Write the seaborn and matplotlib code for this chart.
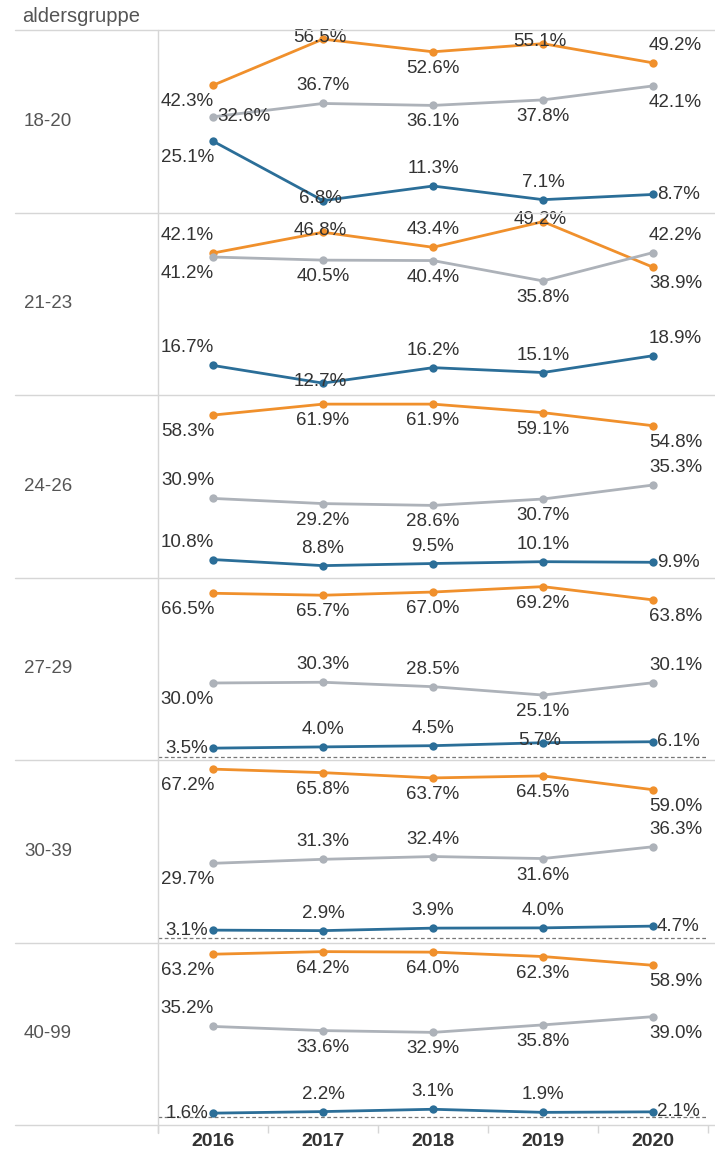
import numpy as np
import pandas as pd
import matplotlib.pyplot as plt
from matplotlib.lines import Line2D
import seaborn as sns

# --- data (andel i prosent) ---
years = [2016, 2017, 2018, 2019, 2020]
age_groups = ['18-20', '21-23', '24-26', '27-29', '30-39', '40-99']
series_names = ['Serie A', 'Serie B', 'Serie C']

# one row per aldersgruppe, values for 2016..2020
serie_a = [  # orange
    [42.3, 56.5, 52.6, 55.1, 49.2],
    [42.1, 46.8, 43.4, 49.2, 38.9],
    [58.3, 61.9, 61.9, 59.1, 54.8],
    [66.5, 65.7, 67.0, 69.2, 63.8],
    [67.2, 65.8, 63.7, 64.5, 59.0],
    [63.2, 64.2, 64.0, 62.3, 58.9],
]
serie_b = [  # gray
    [32.6, 36.7, 36.1, 37.8, 42.1],
    [41.2, 40.5, 40.4, 35.8, 42.2],
    [30.9, 29.2, 28.6, 30.7, 35.3],
    [30.0, 30.3, 28.5, 25.1, 30.1],
    [29.7, 31.3, 32.4, 31.6, 36.3],
    [35.2, 33.6, 32.9, 35.8, 39.0],
]
serie_c = [  # blue
    [25.1, 6.8, 11.3, 7.1, 8.7],
    [16.7, 12.7, 16.2, 15.1, 18.9],
    [10.8, 8.8, 9.5, 10.1, 9.9],
    [3.5, 4.0, 4.5, 5.7, 6.1],
    [3.1, 2.9, 3.9, 4.0, 4.7],
    [1.6, 2.2, 3.1, 1.9, 2.1],
]

# --- styling ---
palette = {'Serie A': '#F0902C', 'Serie B': '#ADB2B9', 'Serie C': '#2B6E98'}

# where each value label goes relative to its point
label_pos = {
    'Serie A': [
        ['SW', 'C', 'S', 'C', 'NE'],
        ['NW', 'C', 'N', 'C', 'SE'],
        ['SW', 'S', 'S', 'S', 'SE'],
        ['SW', 'S', 'S', 'S', 'SE'],
        ['SW', 'S', 'S', 'S', 'SE'],
        ['SW', 'S', 'S', 'S', 'SE'],
    ],
    'Serie B': [
        ['E', 'N', 'S', 'S', 'SE'],
        ['SW', 'S', 'S', 'S', 'NE'],
        ['NW', 'S', 'S', 'S', 'NE'],
        ['SW', 'N', 'N', 'S', 'NE'],
        ['SW', 'N', 'N', 'S', 'NE'],
        ['NW', 'S', 'S', 'S', 'SE'],
    ],
    'Serie C': [
        ['SW', 'C', 'N', 'N', 'E'],
        ['NW', 'C', 'N', 'N', 'NE'],
        ['NW', 'N', 'N', 'N', 'E'],
        ['W', 'N', 'N', 'C', 'E'],
        ['W', 'N', 'N', 'N', 'E'],
        ['W', 'N', 'N', 'N', 'E'],
    ],
}
# dx, dy (pixels), ha, va
offsets = {
    'N': (0, 9, 'center', 'bottom'),
    'S': (0, -8, 'center', 'top'),
    'C': (-3, 2, 'center', 'center'),
    'W': (-5, 0, 'right', 'center'),
    'E': (4, 0, 'left', 'center'),
    'NW': (1, 9, 'right', 'bottom'),
    'SW': (1, -8, 'right', 'top'),
    'NE': (-4, 9, 'left', 'bottom'),
    'SE': (-4, -8, 'left', 'top'),
}

sns.set_theme(style='white')
plt.rcParams['font.family'] = ['Liberation Sans', 'DejaVu Sans']

W, H = 715, 1153
fig = plt.figure(figsize=(W / 100, H / 100), dpi=100)

grid_col = '#D6D6D6'
text_col = '#333333'
left_px, right_px = 158, 708
top_px, panel_h = 30, 182.5

all_vals = {'Serie A': serie_a, 'Serie B': serie_b, 'Serie C': serie_c}

for i, grp in enumerate(age_groups):
    y_top = top_px + i * panel_h
    ax = fig.add_axes([left_px / W, 1 - (y_top + panel_h) / H,
                       (right_px - left_px) / W, panel_h / H])

    df = pd.concat([
        pd.DataFrame({'aar': years, 'andel': all_vals[s][i], 'serie': s})
        for s in series_names
    ])
    sns.lineplot(data=df, x='aar', y='andel', hue='serie', palette=palette,
                 hue_order=series_names, marker='o', markersize=6,
                 markeredgewidth=0, linewidth=2, legend=False, ax=ax)

    # independent y axis per panel, a bit of padding
    lo, hi = df['andel'].min(), df['andel'].max()
    f_top, f_bot = 0.05, 0.065
    rng = (hi - lo) / (1 - f_top - f_bot)
    ymin = lo - f_bot * rng
    ax.set_ylim(ymin, hi + f_top * rng)
    ax.set_xlim(years[0] - 0.5, years[-1] + 0.5)
    if ymin < 0:
        ax.axhline(0, color='#777777', lw=0.9, ls=(0, (3, 2)), zorder=0)

    for s in series_names:
        for j, (yr, v) in enumerate(zip(years, all_vals[s][i])):
            dx, dy, ha, va = offsets[label_pos[s][i][j]]
            ax.annotate(f'{v:.1f}%', (yr, v), xytext=(dx, dy),
                        textcoords='offset pixels', ha=ha, va=va,
                        fontsize=13.5, color=text_col, annotation_clip=False)

    ax.set_yticks([])
    ax.set_ylabel('')
    ax.set_xlabel('')
    for sp in ax.spines.values():
        sp.set_visible(False)

    if i < len(age_groups) - 1:
        ax.set_xticks([])
    else:
        ax.set_xticks(years)
        ax.set_xticklabels([str(y) for y in years], fontweight='bold',
                           fontsize=14, color=text_col)
        ax.set_xticks([y + 0.5 for y in [years[0] - 1] + years], minor=True)
        ax.tick_params(axis='x', which='major', length=0, pad=6)
        ax.tick_params(axis='x', which='minor', length=6, width=1,
                       color=grid_col, bottom=True)

    # row label
    fig.text(24 / W, 1 - (y_top + panel_h / 2) / H, grp, ha='left',
             va='center', fontsize=13.5, color='#555555')

# header
fig.text(22 / W, 1 - 16 / H, 'aldersgruppe', ha='left', va='center',
         fontsize=14.5, color='#555555')

# table-like separator lines
for k in range(len(age_groups) + 1):
    yy = 1 - (top_px + k * panel_h) / H
    fig.add_artist(Line2D([15 / W, 1], [yy, yy], color=grid_col, lw=1,
                          transform=fig.transFigure))
fig.add_artist(Line2D([left_px / W, left_px / W],
                      [1 - (top_px + 6 * panel_h + 8) / H, 1 - top_px / H],
                      color=grid_col, lw=1, transform=fig.transFigure))

fig.savefig('out.png', dpi=100)
